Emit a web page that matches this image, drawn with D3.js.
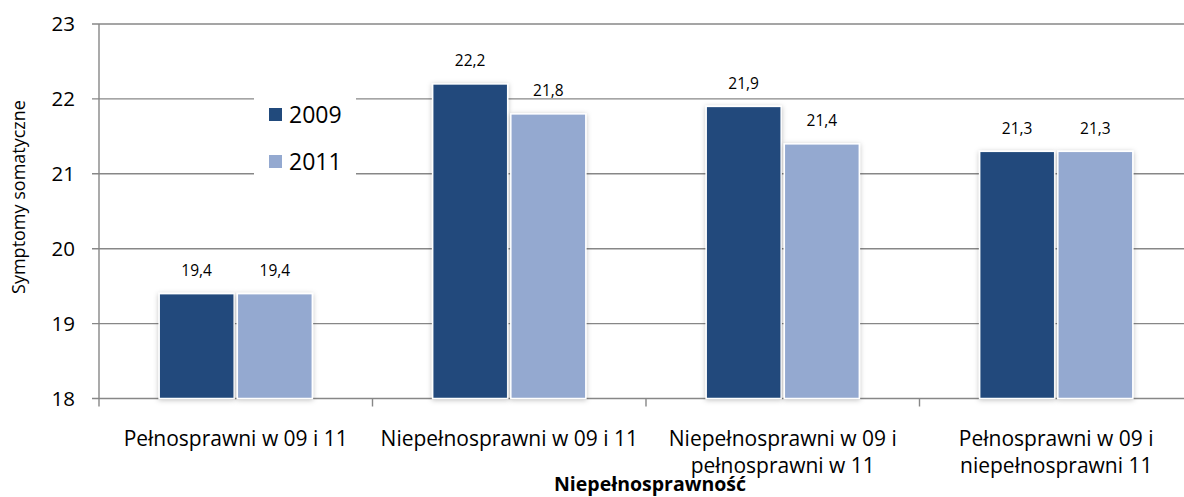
<!DOCTYPE html>
<html><head><meta charset="utf-8">
<script src="https://cdn.jsdelivr.net/npm/d3@7"></script>
<style>
html,body{margin:0;padding:0;background:#fff;}
text{font-family:"Open Sans",Lato,sans-serif;fill:#000;}
</style></head>
<body><svg id="c" width="1184" height="497"></svg>
<script>
const categories = [["Pełnosprawni w 09 i 11"],["Niepełnosprawni w 09 i 11"],["Niepełnosprawni w 09 i","pełnosprawni w 11"],["Pełnosprawni w 09 i","niepełnosprawni 11"]];
const catKeys = ["c1","c2","c3","c4"];
const series = ["2009","2011"];
const values2009 = [19.4, 22.2, 21.9, 21.3];
const values2011 = [19.4, 21.8, 21.4, 21.3];
const labels2009 = ["19,4","22,2","21,9","21,3"];
const labels2011 = ["19,4","21,8","21,4","21,3"];
const yTicks = [18,19,20,21,22,23];
const colors = ["#214a7c","#94a9d0"];

(function(){
const svg = d3.select("#c");
const pL = 99, pR = 1193, pT = 24, pB = 398.5;
const x0 = d3.scaleBand().domain(catKeys).range([pL,pR]).padding(0);
const x1 = d3.scaleBand().domain(series).range([0,x0.bandwidth()]).paddingInner(0.04).paddingOuter(0.77);
const y = d3.scaleLinear().domain([18,23]).range([pB,pT]);

const defs = svg.append("defs");
const f = defs.append("filter").attr("id","sh").attr("x","-20%").attr("y","-20%").attr("width","140%").attr("height","140%");
f.append("feDropShadow").attr("dx",0).attr("dy",1).attr("stdDeviation",2.5).attr("flood-color","#000").attr("flood-opacity",0.25);

const grid = svg.append("g");
grid.selectAll("line").data(yTicks).join("line")
  .attr("x1",pL-7).attr("x2",pR)
  .attr("y1",d=>y(d)).attr("y2",d=>y(d))
  .attr("stroke","#878787").attr("stroke-width",1.4);
svg.append("line").attr("x1",pL).attr("x2",pL).attr("y1",pT).attr("y2",pB+8)
  .attr("stroke","#878787").attr("stroke-width",1.4);
const bounds = catKeys.map(k=>x0(k)).concat([pR]);
svg.append("g").selectAll("line").data(bounds.slice(1)).join("line")
  .attr("x1",d=>d).attr("x2",d=>d).attr("y1",pB).attr("y2",pB+8)
  .attr("stroke","#878787").attr("stroke-width",1.4);
svg.append("g").selectAll("text").data(yTicks).join("text")
  .attr("x",75).attr("y",d=>y(d)).attr("dy","0.36em").attr("text-anchor","end")
  .style("font-size","20.5px").text(d=>d);

svg.append("rect").attr("x",254).attr("y",88).attr("width",102).attr("height",98).attr("fill","#fff");

const data = catKeys.map((k,i)=>({k, vals:[{s:"2009",v:values2009[i],l:labels2009[i],c:colors[0]},{s:"2011",v:values2011[i],l:labels2011[i],c:colors[1]}]}));
const gCat = svg.append("g").selectAll("g").data(data).join("g").attr("transform",d=>`translate(${x0(d.k)},0)`);
gCat.selectAll("rect").data(d=>d.vals).join("rect")
  .attr("x",d=>x1(d.s)).attr("width",x1.bandwidth())
  .attr("y",d=>y(d.v)).attr("height",d=>y(18)-y(d.v))
  .attr("fill",d=>d.c).attr("stroke","#fff").attr("stroke-width",1.5)
  .attr("filter","url(#sh)");
gCat.selectAll("text").data(d=>d.vals).join("text")
  .attr("x",d=>x1(d.s)+x1.bandwidth()/2).attr("y",d=>y(d.v)-17.5)
  .attr("text-anchor","middle").style("font-size","15.5px").text(d=>d.l);

const catG = svg.append("g").selectAll("text").data(catKeys).join("text")
  .attr("x",d=>x0(d)+x0.bandwidth()/2).attr("y",446)
  .attr("text-anchor","middle").style("font-size","21px");
catG.each(function(d,i){
  const t = d3.select(this);
  categories[i].forEach((line,j)=>{
    t.append("tspan").attr("x",x0(d)+x0.bandwidth()/2).attr("dy",j===0?0:27).text(line);
  });
});

svg.append("text").attr("transform","translate(25,197) rotate(-90)").attr("text-anchor","middle")
  .style("font-size","18px").text("Symptomy somatyczne");
svg.append("text").attr("x",650).attr("y",491).attr("text-anchor","middle")
  .style("font-size","19.5px").style("font-weight","bold").text("Niepełnosprawność");

const leg = svg.append("g");
series.forEach((s,i)=>{
  const yy = 114.5 + i*47;
  leg.append("rect").attr("x",269).attr("y",yy-6.5).attr("width",13).attr("height",13).attr("fill",colors[i]);
  leg.append("text").attr("x",289).attr("y",yy).attr("dy","0.36em").style("font-size","23px").text(s);
});
})();
</script></body></html>
